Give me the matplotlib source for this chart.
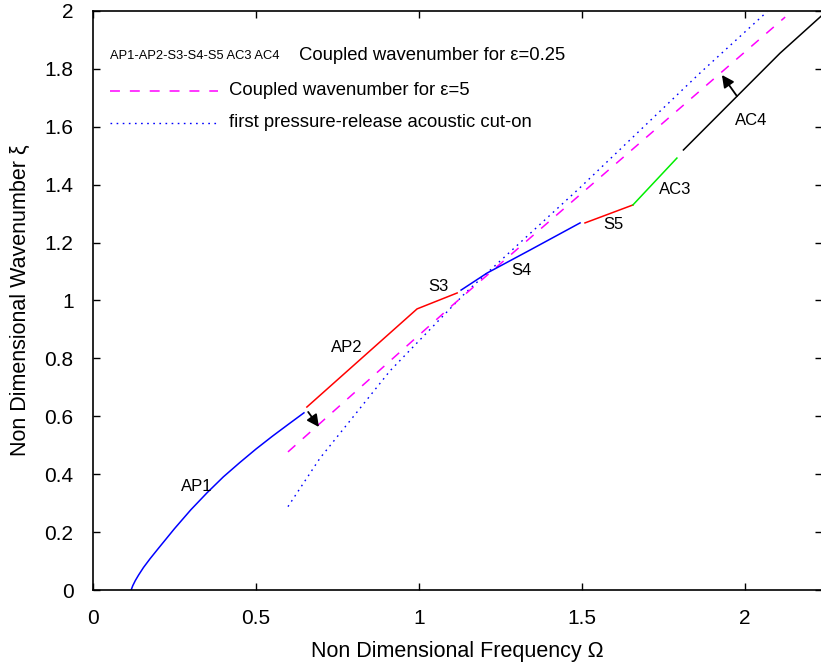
import matplotlib

matplotlib.use("Agg")
import matplotlib.pyplot as plt
from matplotlib.ticker import FormatStrFormatter, MultipleLocator

plt.rcParams["font.family"] = ["Liberation Sans", "DejaVu Sans"]

# branch curves of the coupled wavenumber, eps = 0.25
ap1_x = [0.117, 0.122, 0.130, 0.140, 0.155, 0.175, 0.200, 0.250, 0.300, 0.350,
         0.400, 0.450, 0.500, 0.550, 0.600, 0.647]
ap1_y = [0.000, 0.015, 0.033, 0.052, 0.078, 0.108, 0.143, 0.212, 0.277, 0.336,
         0.391, 0.440, 0.487, 0.531, 0.573, 0.612]
ap2_x = [0.656, 0.994, 1.117]  # AP2 then S3
ap2_y = [0.632, 0.971, 1.026]
s4_x = [1.129, 1.209, 1.340, 1.494]
s4_y = [1.036, 1.095, 1.174, 1.268]
s5_x = [1.509, 1.656]
s5_y = [1.268, 1.330]
ac3_x = [1.656, 1.791]
ac3_y = [1.330, 1.492]
ac4_x = [1.811, 1.974, 2.107, 2.236]
ac4_y = [1.520, 1.704, 1.854, 1.985]

# coupled wavenumber, eps = 5
eps5_x = [0.598, 0.880, 1.104, 1.840, 2.123]
eps5_y = [0.477, 0.760, 0.985, 1.703, 1.979]

# first pressure-release acoustic cut-on
cut_x = [0.598, 0.696, 0.810, 0.911, 1.025, 1.141, 1.494, 1.862, 2.067]
cut_y = [0.288, 0.455, 0.615, 0.757, 0.890, 1.025, 1.390, 1.786, 1.997]

labels = ["AP1", "AP2", "S3", "S4", "S5", "AC3", "AC4"]
label_x = [0.319, 0.779, 1.058, 1.313, 1.595, 1.785, 2.018]
label_y = [0.356, 0.836, 1.050, 1.105, 1.264, 1.382, 1.623]

# arrows: (tail, head)
arrows = [((0.660, 0.615), (0.693, 0.563)), ((1.975, 1.706), (1.929, 1.779))]

fig = plt.figure(figsize=(8.21, 6.63), dpi=100)
ax = fig.add_axes([93 / 821, 73 / 663, 729 / 821, 579 / 663])

lw = 1.1
ax.plot(cut_x, cut_y, color="#0000ff", lw=1.0, linestyle=(0, (1.2, 3.2)))
ax.plot(eps5_x, eps5_y, color="#ff00ff", lw=1.1, linestyle=(0, (6.5, 6.5)))
ax.plot(ap1_x, ap1_y, color="#0000ff", lw=lw)
ax.plot(ap2_x, ap2_y, color="#ff0000", lw=lw)
ax.plot(s4_x, s4_y, color="#0000ff", lw=lw)
ax.plot(s5_x, s5_y, color="#ff0000", lw=lw)
ax.plot(ac3_x, ac3_y, color="#00ee00", lw=lw)
ax.plot(ac4_x, ac4_y, color="black", lw=lw)

for text, x, y in zip(labels, label_x, label_y):
    ax.text(x, y, text, fontsize=12, ha="center", va="center")

for tail, head in arrows:
    ax.annotate(
        "",
        xy=head,
        xytext=tail,
        arrowprops=dict(arrowstyle="-|>", color="black", lw=1.3, mutation_scale=18,
                        shrinkA=0, shrinkB=0),
    )

# gnuplot-style key
key_y = [0.923, 0.862, 0.807]
ax.text(0.0233, key_y[0], "AP1-AP2-S3-S4-S5 AC3 AC4", fontsize=9.3,
        transform=ax.transAxes, va="center", ha="left")
ax.text(0.2826, key_y[0], "Coupled wavenumber for ε=0.25", fontsize=13.3,
        transform=ax.transAxes, va="center", ha="left")
ax.plot([0.0233, 0.1715], [key_y[1]] * 2, color="#ff00ff", lw=1.1,
        linestyle=(0, (6.5, 6.5)), transform=ax.transAxes)
ax.text(0.1866, key_y[1], "Coupled wavenumber for ε=5", fontsize=13.3,
        transform=ax.transAxes, va="center", ha="left")
ax.plot([0.0233, 0.1715], [key_y[2]] * 2, color="#0000ff", lw=1.0,
        linestyle=(0, (1.2, 3.2)), transform=ax.transAxes)
ax.text(0.1866, key_y[2], "first pressure-release acoustic cut-on", fontsize=13.3,
        transform=ax.transAxes, va="center", ha="left")

ax.set_xlim(0, 2.236)
ax.set_ylim(0, 2)
ax.xaxis.set_major_locator(MultipleLocator(0.5))
ax.yaxis.set_major_locator(MultipleLocator(0.2))
ax.xaxis.set_major_formatter(FormatStrFormatter("%g"))
ax.yaxis.set_major_formatter(FormatStrFormatter("%g"))
ax.tick_params(direction="in", length=5, width=1.0, top=True, right=True,
               labelsize=15, pad=14)
for spine in ax.spines.values():
    spine.set_linewidth(1.2)

ax.set_xlabel("Non Dimensional Frequency Ω", fontsize=15.5, labelpad=9)
ax.set_ylabel("Non Dimensional Wavenumber ξ", fontsize=15.5, labelpad=10)

fig.savefig("out.png", dpi=100)
